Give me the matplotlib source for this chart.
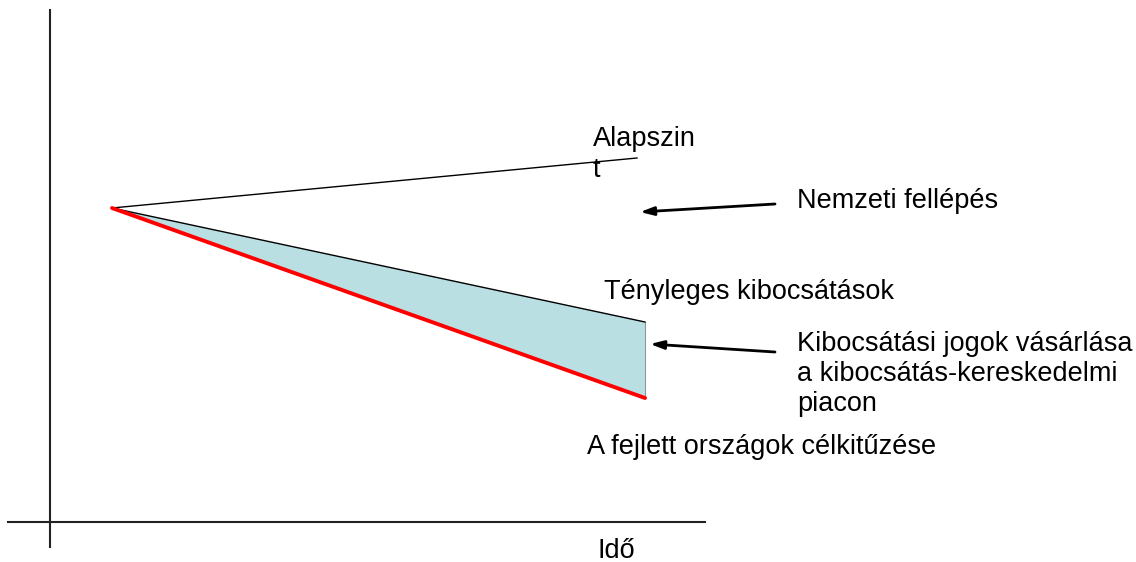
import matplotlib
matplotlib.use("Agg")
import matplotlib.pyplot as plt

# Diagram geometry (pixel-like units, y downward)
origin = (112, 208)
baseline_end = (637, 158)
actual_end = (645, 322)
target_end = (645, 398)

axis_v_x = [50, 50]
axis_v_y = [10, 547]
axis_h_x = [8, 705]
axis_h_y = [522, 522]

labels = [
    ("Alapszin", 593, 139),
    ("t", 593, 170),
    ("Nemzeti fellépés", 797, 201),
    ("Tényleges kibocsátások", 604, 292),
    ("Kibocsátási jogok vásárlása", 797, 344),
    ("a kibocsátás-kereskedelmi", 797, 374),
    ("piacon", 797, 404),
    ("A fejlett országok célkitűzése", 587, 447),
    ("Idő", 597, 551),
]

arrows = [
    ((775, 204), (640, 212)),
    ((775, 352), (650, 344)),
]

fig = plt.figure(figsize=(11.36, 5.62), dpi=100)
ax = fig.add_axes([0, 0, 1, 1])
ax.set_xlim(0, 1136)
ax.set_ylim(562, 0)
ax.axis("off")

ax.plot(axis_v_x, axis_v_y, color="#222222", lw=1.5)
ax.plot(axis_h_x, axis_h_y, color="#222222", lw=1.5)

# shaded area between actual emissions and target
ax.fill([origin[0], actual_end[0], target_end[0]],
        [origin[1], actual_end[1], target_end[1]],
        color="#b9dfe3", ec="none")
ax.plot([actual_end[0], target_end[0]], [actual_end[1], target_end[1]],
        color="#8a9a9c", lw=0.8)
ax.plot([origin[0], baseline_end[0]], [origin[1], baseline_end[1]],
        color="black", lw=1.0)
ax.plot([origin[0], actual_end[0]], [origin[1], actual_end[1]],
        color="black", lw=1.0)
ax.plot([origin[0], target_end[0]], [origin[1], target_end[1]],
        color="#ff0000", lw=2.8, solid_capstyle="round")

for (x0, y0), (x1, y1) in arrows:
    ax.annotate("", xy=(x1, y1), xytext=(x0, y0),
                arrowprops=dict(arrowstyle="-|>,head_length=0.8,head_width=0.25",
                                color="black", lw=2.0, shrinkA=0, shrinkB=0))

for txt, x, y in labels:
    ax.text(x, y, txt, fontsize=19.5, family="Liberation Sans",
            ha="left", va="center", color="black")

fig.savefig("out.png", dpi=100)
